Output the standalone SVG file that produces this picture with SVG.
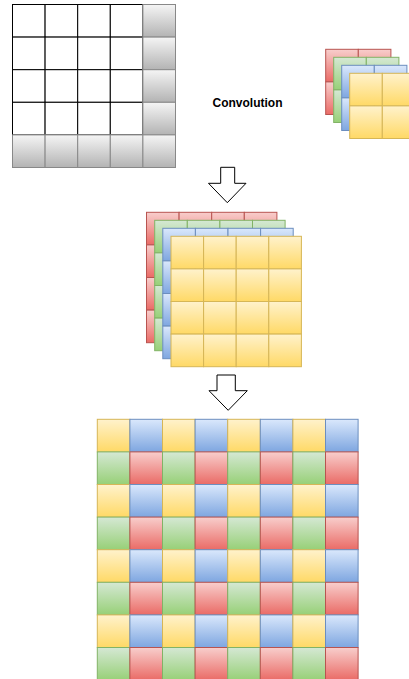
<svg xmlns="http://www.w3.org/2000/svg" xmlns:xlink="http://www.w3.org/1999/xlink" width="409" height="679" viewBox="0 0 409 679">
<defs>
<linearGradient id="gy" x1="0" y1="0" x2="0" y2="1"><stop offset="0" stop-color="#fff2cc"/><stop offset="1" stop-color="#ffd966"/></linearGradient>
<linearGradient id="gb" x1="0" y1="0" x2="0" y2="1"><stop offset="0" stop-color="#dae8fc"/><stop offset="1" stop-color="#7ea6e0"/></linearGradient>
<linearGradient id="gg" x1="0" y1="0" x2="0" y2="1"><stop offset="0" stop-color="#d5e8d4"/><stop offset="1" stop-color="#97d077"/></linearGradient>
<linearGradient id="gr" x1="0" y1="0" x2="0" y2="1"><stop offset="0" stop-color="#f8cecc"/><stop offset="1" stop-color="#ea6b66"/></linearGradient>
<linearGradient id="gk" x1="0" y1="0" x2="0" y2="1"><stop offset="0" stop-color="#f5f5f5"/><stop offset="1" stop-color="#b3b3b3"/></linearGradient>
<rect id="c" width="32.6" height="32.6"/>
</defs>
<style>
use{stroke-width:1}
.w{fill:#ffffff;stroke:#000000}
.k{fill:url(#gk);stroke:#888888}
.y{fill:url(#gy);stroke:#d6b656}
.b{fill:url(#gb);stroke:#6c8ebf}
.g{fill:url(#gg);stroke:#82b366}
.r{fill:url(#gr);stroke:#b85450}
.arrow{fill:#ffffff;stroke:#000000;stroke-width:1}
.label{font-family:"Liberation Sans",Arial,sans-serif;font-size:12px;font-weight:bold;fill:#000000}
</style>

<g id="input-grid" transform="translate(12.5,4.5)">
<g class="w">
<use href="#c" x="0" y="0"/><use href="#c" x="32.6" y="0"/><use href="#c" x="65.2" y="0"/><use href="#c" x="97.8" y="0"/>
<use href="#c" x="0" y="32.6"/><use href="#c" x="32.6" y="32.6"/><use href="#c" x="65.2" y="32.6"/><use href="#c" x="97.8" y="32.6"/>
<use href="#c" x="0" y="65.2"/><use href="#c" x="32.6" y="65.2"/><use href="#c" x="65.2" y="65.2"/><use href="#c" x="97.8" y="65.2"/>
<use href="#c" x="0" y="97.8"/><use href="#c" x="32.6" y="97.8"/><use href="#c" x="65.2" y="97.8"/><use href="#c" x="97.8" y="97.8"/>
</g>
<g class="k">
<use href="#c" x="130.4" y="0"/><use href="#c" x="130.4" y="32.6"/><use href="#c" x="130.4" y="65.2"/><use href="#c" x="130.4" y="97.8"/>
<use href="#c" x="0" y="130.4"/><use href="#c" x="32.6" y="130.4"/><use href="#c" x="65.2" y="130.4"/><use href="#c" x="97.8" y="130.4"/><use href="#c" x="130.4" y="130.4"/>
</g>
</g>

<g id="convolution-label">
<text class="label" x="247.5" y="106.5" text-anchor="middle">Convolution</text>
</g>

<g id="kernels">
<g class="r" transform="translate(325.7,49.3)"><use href="#c"/><use href="#c" x="32.6"/><use href="#c" y="32.6"/><use href="#c" x="32.6" y="32.6"/></g>
<g class="g" transform="translate(333.7,57.3)"><use href="#c"/><use href="#c" x="32.6"/><use href="#c" y="32.6"/><use href="#c" x="32.6" y="32.6"/></g>
<g class="b" transform="translate(341.7,65.3)"><use href="#c"/><use href="#c" x="32.6"/><use href="#c" y="32.6"/><use href="#c" x="32.6" y="32.6"/></g>
<g class="y" transform="translate(349.7,73.3)"><use href="#c"/><use href="#c" x="32.6"/><use href="#c" y="32.6"/><use href="#c" x="32.6" y="32.6"/></g>
</g>

<g id="feature-maps">
<g class="r" transform="translate(146.5,212.3)">
<use href="#c" x="0" y="0"/><use href="#c" x="32.6" y="0"/><use href="#c" x="65.2" y="0"/><use href="#c" x="97.8" y="0"/>
<use href="#c" x="0" y="32.6"/><use href="#c" x="32.6" y="32.6"/><use href="#c" x="65.2" y="32.6"/><use href="#c" x="97.8" y="32.6"/>
<use href="#c" x="0" y="65.2"/><use href="#c" x="32.6" y="65.2"/><use href="#c" x="65.2" y="65.2"/><use href="#c" x="97.8" y="65.2"/>
<use href="#c" x="0" y="97.8"/><use href="#c" x="32.6" y="97.8"/><use href="#c" x="65.2" y="97.8"/><use href="#c" x="97.8" y="97.8"/>
</g>
<g class="g" transform="translate(154.7,220.3)">
<use href="#c" x="0" y="0"/><use href="#c" x="32.6" y="0"/><use href="#c" x="65.2" y="0"/><use href="#c" x="97.8" y="0"/>
<use href="#c" x="0" y="32.6"/><use href="#c" x="32.6" y="32.6"/><use href="#c" x="65.2" y="32.6"/><use href="#c" x="97.8" y="32.6"/>
<use href="#c" x="0" y="65.2"/><use href="#c" x="32.6" y="65.2"/><use href="#c" x="65.2" y="65.2"/><use href="#c" x="97.8" y="65.2"/>
<use href="#c" x="0" y="97.8"/><use href="#c" x="32.6" y="97.8"/><use href="#c" x="65.2" y="97.8"/><use href="#c" x="97.8" y="97.8"/>
</g>
<g class="b" transform="translate(162.8,228.3)">
<use href="#c" x="0" y="0"/><use href="#c" x="32.6" y="0"/><use href="#c" x="65.2" y="0"/><use href="#c" x="97.8" y="0"/>
<use href="#c" x="0" y="32.6"/><use href="#c" x="32.6" y="32.6"/><use href="#c" x="65.2" y="32.6"/><use href="#c" x="97.8" y="32.6"/>
<use href="#c" x="0" y="65.2"/><use href="#c" x="32.6" y="65.2"/><use href="#c" x="65.2" y="65.2"/><use href="#c" x="97.8" y="65.2"/>
<use href="#c" x="0" y="97.8"/><use href="#c" x="32.6" y="97.8"/><use href="#c" x="65.2" y="97.8"/><use href="#c" x="97.8" y="97.8"/>
</g>
<g class="y" transform="translate(171,236.3)">
<use href="#c" x="0" y="0"/><use href="#c" x="32.6" y="0"/><use href="#c" x="65.2" y="0"/><use href="#c" x="97.8" y="0"/>
<use href="#c" x="0" y="32.6"/><use href="#c" x="32.6" y="32.6"/><use href="#c" x="65.2" y="32.6"/><use href="#c" x="97.8" y="32.6"/>
<use href="#c" x="0" y="65.2"/><use href="#c" x="32.6" y="65.2"/><use href="#c" x="65.2" y="65.2"/><use href="#c" x="97.8" y="65.2"/>
<use href="#c" x="0" y="97.8"/><use href="#c" x="32.6" y="97.8"/><use href="#c" x="65.2" y="97.8"/><use href="#c" x="97.8" y="97.8"/>
</g>
</g>

<g id="output-grid" transform="translate(97.3,419.3)">
<g id="row0"><use href="#c" class="y" x="0"/><use href="#c" class="b" x="32.6"/><use href="#c" class="y" x="65.2"/><use href="#c" class="b" x="97.8"/><use href="#c" class="y" x="130.4"/><use href="#c" class="b" x="163"/><use href="#c" class="y" x="195.6"/><use href="#c" class="b" x="228.2"/></g>
<g id="row1" transform="translate(0,32.6)"><use href="#c" class="g" x="0"/><use href="#c" class="r" x="32.6"/><use href="#c" class="g" x="65.2"/><use href="#c" class="r" x="97.8"/><use href="#c" class="g" x="130.4"/><use href="#c" class="r" x="163"/><use href="#c" class="g" x="195.6"/><use href="#c" class="r" x="228.2"/></g>
<g id="row2" transform="translate(0,65.2)"><use href="#c" class="y" x="0"/><use href="#c" class="b" x="32.6"/><use href="#c" class="y" x="65.2"/><use href="#c" class="b" x="97.8"/><use href="#c" class="y" x="130.4"/><use href="#c" class="b" x="163"/><use href="#c" class="y" x="195.6"/><use href="#c" class="b" x="228.2"/></g>
<g id="row3" transform="translate(0,97.8)"><use href="#c" class="g" x="0"/><use href="#c" class="r" x="32.6"/><use href="#c" class="g" x="65.2"/><use href="#c" class="r" x="97.8"/><use href="#c" class="g" x="130.4"/><use href="#c" class="r" x="163"/><use href="#c" class="g" x="195.6"/><use href="#c" class="r" x="228.2"/></g>
<g id="row4" transform="translate(0,130.4)"><use href="#c" class="y" x="0"/><use href="#c" class="b" x="32.6"/><use href="#c" class="y" x="65.2"/><use href="#c" class="b" x="97.8"/><use href="#c" class="y" x="130.4"/><use href="#c" class="b" x="163"/><use href="#c" class="y" x="195.6"/><use href="#c" class="b" x="228.2"/></g>
<g id="row5" transform="translate(0,163)"><use href="#c" class="g" x="0"/><use href="#c" class="r" x="32.6"/><use href="#c" class="g" x="65.2"/><use href="#c" class="r" x="97.8"/><use href="#c" class="g" x="130.4"/><use href="#c" class="r" x="163"/><use href="#c" class="g" x="195.6"/><use href="#c" class="r" x="228.2"/></g>
<g id="row6" transform="translate(0,195.6)"><use href="#c" class="y" x="0"/><use href="#c" class="b" x="32.6"/><use href="#c" class="y" x="65.2"/><use href="#c" class="b" x="97.8"/><use href="#c" class="y" x="130.4"/><use href="#c" class="b" x="163"/><use href="#c" class="y" x="195.6"/><use href="#c" class="b" x="228.2"/></g>
<g id="row7" transform="translate(0,228.2)"><use href="#c" class="g" x="0"/><use href="#c" class="r" x="32.6"/><use href="#c" class="g" x="65.2"/><use href="#c" class="r" x="97.8"/><use href="#c" class="g" x="130.4"/><use href="#c" class="r" x="163"/><use href="#c" class="g" x="195.6"/><use href="#c" class="r" x="228.2"/></g>
</g>

<g id="connectors">
<polygon class="arrow" points="220.7,167.3 234.7,167.3 234.7,183.3 246,183.3 227.3,202.7 208.5,183.3 220.7,183.3"/>
<polygon class="arrow" points="217,375 235.3,375 235.3,390.7 247.3,390.7 228.2,410.3 209,390.7 217,390.7"/>
</g>
</svg>
